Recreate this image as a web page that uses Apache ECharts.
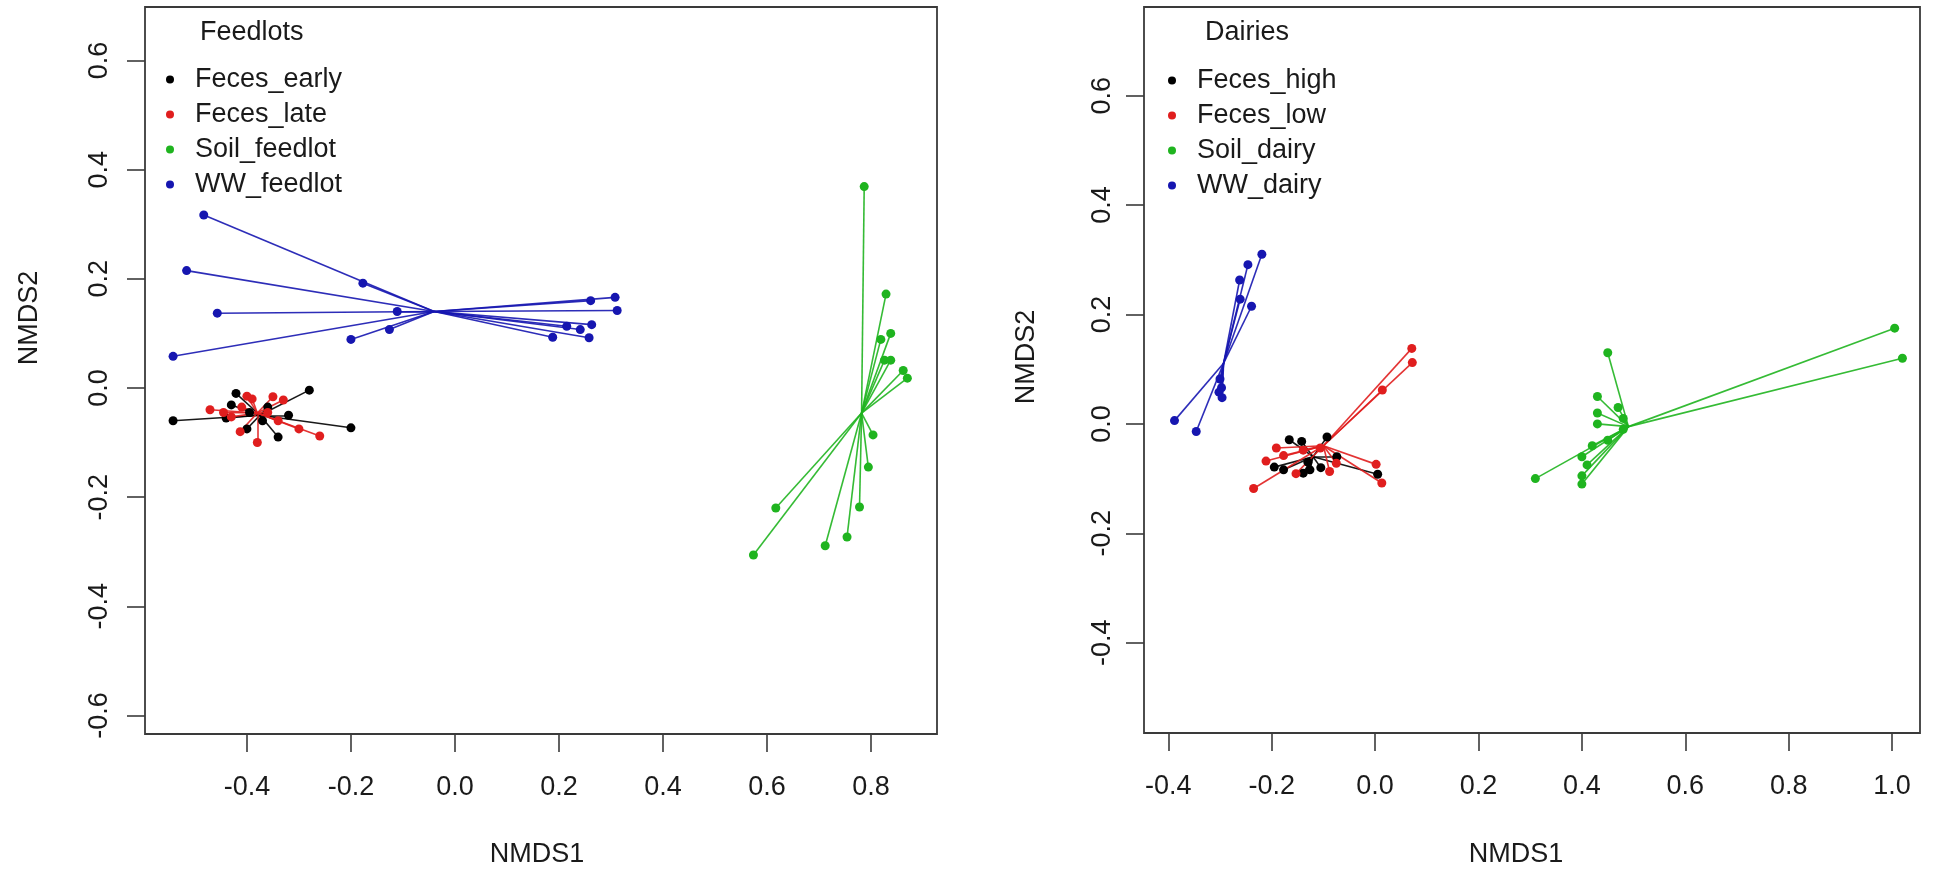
<!DOCTYPE html>
<html>
<head>
<meta charset="utf-8">
<script src="https://cdn.jsdelivr.net/npm/echarts@6/dist/echarts.min.js"></script>
<style>
html,body{margin:0;padding:0;background:#ffffff;}
#chart{width:1950px;height:883px;}
</style>
</head>
<body>
<div id="chart"></div>
<script>
// ================= DATA =================
// Panel titles
const feedlotTitle = 'Feedlots';
const dairyTitle = 'Dairies';

// Feedlots panel: group names
const feedlotGroups = ['Feces_early', 'Feces_late', 'Soil_feedlot', 'WW_feedlot'];

// Feedlots points [NMDS1, NMDS2]
const feedlotFecesEarly = [
  [-0.542,-0.060],[-0.421,-0.010],[-0.280,-0.004],[-0.200,-0.073],[-0.430,-0.031],
  [-0.395,-0.045],[-0.360,-0.035],[-0.340,-0.090],[-0.400,-0.075],[-0.370,-0.060],
  [-0.320,-0.050],[-0.440,-0.055]
];
const feedlotFecesEarlyCentroid = [-0.375,-0.050];

const feedlotFecesLate = [
  [-0.471,-0.040],[-0.413,-0.080],[-0.260,-0.088],[-0.400,-0.015],[-0.390,-0.020],
  [-0.350,-0.016],[-0.330,-0.022],[-0.430,-0.053],[-0.300,-0.075],[-0.380,-0.100],
  [-0.360,-0.045],[-0.410,-0.035],[-0.340,-0.060],[-0.445,-0.045]
];
const feedlotFecesLateCentroid = [-0.380,-0.046];

const feedlotSoil = [
  [0.787,0.369],[0.829,0.172],[0.819,0.089],[0.838,0.100],[0.826,0.051],
  [0.838,0.051],[0.862,0.032],[0.870,0.018],[0.804,-0.086],[0.795,-0.145],
  [0.778,-0.218],[0.754,-0.273],[0.712,-0.289],[0.617,-0.220],[0.574,-0.306]
];
const feedlotSoilCentroid = [0.782,-0.046];

const feedlotWW = [
  [-0.483,0.317],[-0.516,0.215],[-0.457,0.137],[-0.542,0.058],[-0.177,0.192],
  [-0.111,0.140],[-0.126,0.107],[-0.200,0.089],[0.261,0.160],[0.308,0.166],
  [0.312,0.142],[0.215,0.113],[0.241,0.107],[0.263,0.116],[0.188,0.093],
  [0.258,0.092]
];
const feedlotWWCentroid = [-0.040,0.140];

// Dairies panel: group names
const dairyGroups = ['Feces_high', 'Feces_low', 'Soil_dairy', 'WW_dairy'];

const dairyFecesHigh = [
  [-0.166,-0.029],[-0.142,-0.032],[-0.093,-0.024],[-0.195,-0.079],[-0.177,-0.084],
  [-0.126,-0.084],[-0.139,-0.090],[-0.105,-0.080],[-0.074,-0.060],[0.005,-0.092],
  [-0.130,-0.070]
];
const dairyFecesHighCentroid = [-0.120,-0.060];

const dairyFecesLow = [
  [0.071,0.138],[0.072,0.112],[0.014,0.062],[-0.211,-0.068],[-0.235,-0.118],
  [-0.191,-0.044],[-0.177,-0.058],[-0.153,-0.091],[-0.088,-0.087],[0.013,-0.108],
  [0.002,-0.074],[-0.106,-0.044],[-0.139,-0.048],[-0.075,-0.072]
];
const dairyFecesLowCentroid = [-0.100,-0.040];

const dairySoil = [
  [0.450,0.130],[0.430,0.050],[0.470,0.030],[0.430,0.020],[0.430,0.000],
  [0.480,0.010],[0.480,-0.010],[0.450,-0.030],[0.420,-0.040],[0.400,-0.060],
  [0.410,-0.075],[0.400,-0.095],[0.400,-0.110],[0.310,-0.100],[1.005,0.175],
  [1.020,0.120]
];
const dairySoilCentroid = [0.490,-0.005];

const dairyWW = [
  [-0.219,0.310],[-0.246,0.291],[-0.262,0.263],[-0.261,0.228],[-0.239,0.215],
  [-0.300,0.082],[-0.297,0.066],[-0.302,0.058],[-0.296,0.048],[-0.388,0.006],
  [-0.346,-0.014]
];
const dairyWWCentroid = [-0.293,0.111];

// Axis tick labels
const feedlotXTicks = [-0.4,-0.2,0.0,0.2,0.4,0.6,0.8];
const feedlotYTicks = [-0.6,-0.4,-0.2,0.0,0.2,0.4,0.6];
const dairyXTicks = [-0.4,-0.2,0.0,0.2,0.4,0.6,0.8,1.0];
const dairyYTicks = [-0.4,-0.2,0.0,0.2,0.4,0.6];

// Axis titles
const xTitle = 'NMDS1';
const yTitle = 'NMDS2';

// ================= STYLE =================
const FONT = '"Liberation Sans", Arial, Helvetica, sans-serif';
const TXT = '#1a1a1a';
const groupColors = ['#000000', '#e01e1e', '#1fb41f', '#1616b0'];

function xAxisCfg(gi, min, max, ticks) {
  return {
    type: 'value', gridIndex: gi, min: min, max: max,
    splitLine: {show: false},
    axisLine: {show: false, onZero: false},
    axisTick: {show: true, inside: false, length: 18, customValues: ticks,
               lineStyle: {color: '#3a3a3a', width: 1.6}},
    axisLabel: {customValues: ticks, formatter: v => v.toFixed(1),
                fontSize: 27, fontFamily: FONT, color: TXT, margin: 40}
  };
}
function yAxisCfg(gi, min, max, ticks, margin) {
  return {
    type: 'value', gridIndex: gi, min: min, max: max,
    splitLine: {show: false},
    axisLine: {show: false, onZero: false},
    axisTick: {show: true, inside: false, length: 18, customValues: ticks,
               lineStyle: {color: '#3a3a3a', width: 1.6}},
    axisLabel: {customValues: ticks, formatter: v => v.toFixed(1), rotate: 90,
                fontSize: 27, fontFamily: FONT, color: TXT, margin: margin}
  };
}
function spider(name, pts, c, color, gi) {
  return {
    type: 'lines', name: name + ' spider', coordinateSystem: 'cartesian2d',
    xAxisIndex: gi, yAxisIndex: gi, silent: true, z: 2,
    data: pts.map(p => ({coords: [p, c]})),
    lineStyle: {color: color, width: 1.6, opacity: 0.9, curveness: 0}
  };
}
function points(name, pts, color, gi) {
  return {
    type: 'scatter', name: name, xAxisIndex: gi, yAxisIndex: gi, z: 3,
    data: pts, symbol: 'circle', symbolSize: 9,
    itemStyle: {color: color, opacity: 1}
  };
}

const feedlotSets = [
  [feedlotFecesEarly, feedlotFecesEarlyCentroid],
  [feedlotFecesLate, feedlotFecesLateCentroid],
  [feedlotSoil, feedlotSoilCentroid],
  [feedlotWW, feedlotWWCentroid]
];
const dairySets = [
  [dairyFecesHigh, dairyFecesHighCentroid],
  [dairyFecesLow, dairyFecesLowCentroid],
  [dairySoil, dairySoilCentroid],
  [dairyWW, dairyWWCentroid]
];

const series = [];
feedlotSets.forEach((s, i) => {
  series.push(spider(feedlotGroups[i], s[0], s[1], groupColors[i], 0));
  series.push(points(feedlotGroups[i], s[0], groupColors[i], 0));
});
dairySets.forEach((s, i) => {
  series.push(spider(dairyGroups[i], s[0], s[1], groupColors[i], 1));
  series.push(points(dairyGroups[i], s[0], groupColors[i], 1));
});

function legendCfg(left, top, names) {
  return {
    orient: 'vertical', left: left, top: top, padding: 0,
    data: names.map(n => ({name: n, icon: 'circle'})),
    itemWidth: 40, itemHeight: 8, itemGap: 8, selectedMode: false,
    textStyle: {fontSize: 27, lineHeight: 27, fontFamily: FONT, color: TXT}
  };
}

const option = {
  animation: false,
  backgroundColor: '#ffffff',
  title: [
    {text: feedlotTitle, left: 200, top: 19, padding: 0,
     textStyle: {fontSize: 27, fontWeight: 'normal', fontFamily: FONT, color: TXT}},
    {text: dairyTitle, left: 1205, top: 19, padding: 0,
     textStyle: {fontSize: 27, fontWeight: 'normal', fontFamily: FONT, color: TXT}}
  ],
  legend: [
    legendCfg(166, 66, feedlotGroups),
    legendCfg(1168, 67, dairyGroups)
  ],
  grid: [
    {left: 145, top: 7, width: 792, height: 727, show: true,
     borderColor: '#3a3a3a', borderWidth: 1.8, backgroundColor: 'transparent'},
    {left: 1144, top: 7, width: 776, height: 726, show: true,
     borderColor: '#3a3a3a', borderWidth: 1.8, backgroundColor: 'transparent'}
  ],
  xAxis: [
    xAxisCfg(0, -0.596, 0.927, feedlotXTicks),
    xAxisCfg(1, -0.447, 1.054, dairyXTicks)
  ],
  yAxis: [
    yAxisCfg(0, -0.634, 0.698, feedlotYTicks, 32),
    yAxisCfg(1, -0.565, 0.762, dairyYTicks, 28)
  ],
  graphic: [
    {type: 'text', x: 30, y: 318, rotation: Math.PI / 2,
     style: {text: yTitle, font: '27px ' + FONT, fill: TXT, align: 'center', verticalAlign: 'middle'}},
    {type: 'text', x: 1027, y: 357, rotation: Math.PI / 2,
     style: {text: yTitle, font: '27px ' + FONT, fill: TXT, align: 'center', verticalAlign: 'middle'}},
    {type: 'text', x: 537, y: 855,
     style: {text: xTitle, font: '27px ' + FONT, fill: TXT, align: 'center', verticalAlign: 'middle'}},
    {type: 'text', x: 1516, y: 855,
     style: {text: xTitle, font: '27px ' + FONT, fill: TXT, align: 'center', verticalAlign: 'middle'}}
  ],
  series: series
};

const chart = echarts.init(document.getElementById('chart'), null, {renderer: 'canvas'});
chart.setOption(option);
</script>
</body>
</html>
